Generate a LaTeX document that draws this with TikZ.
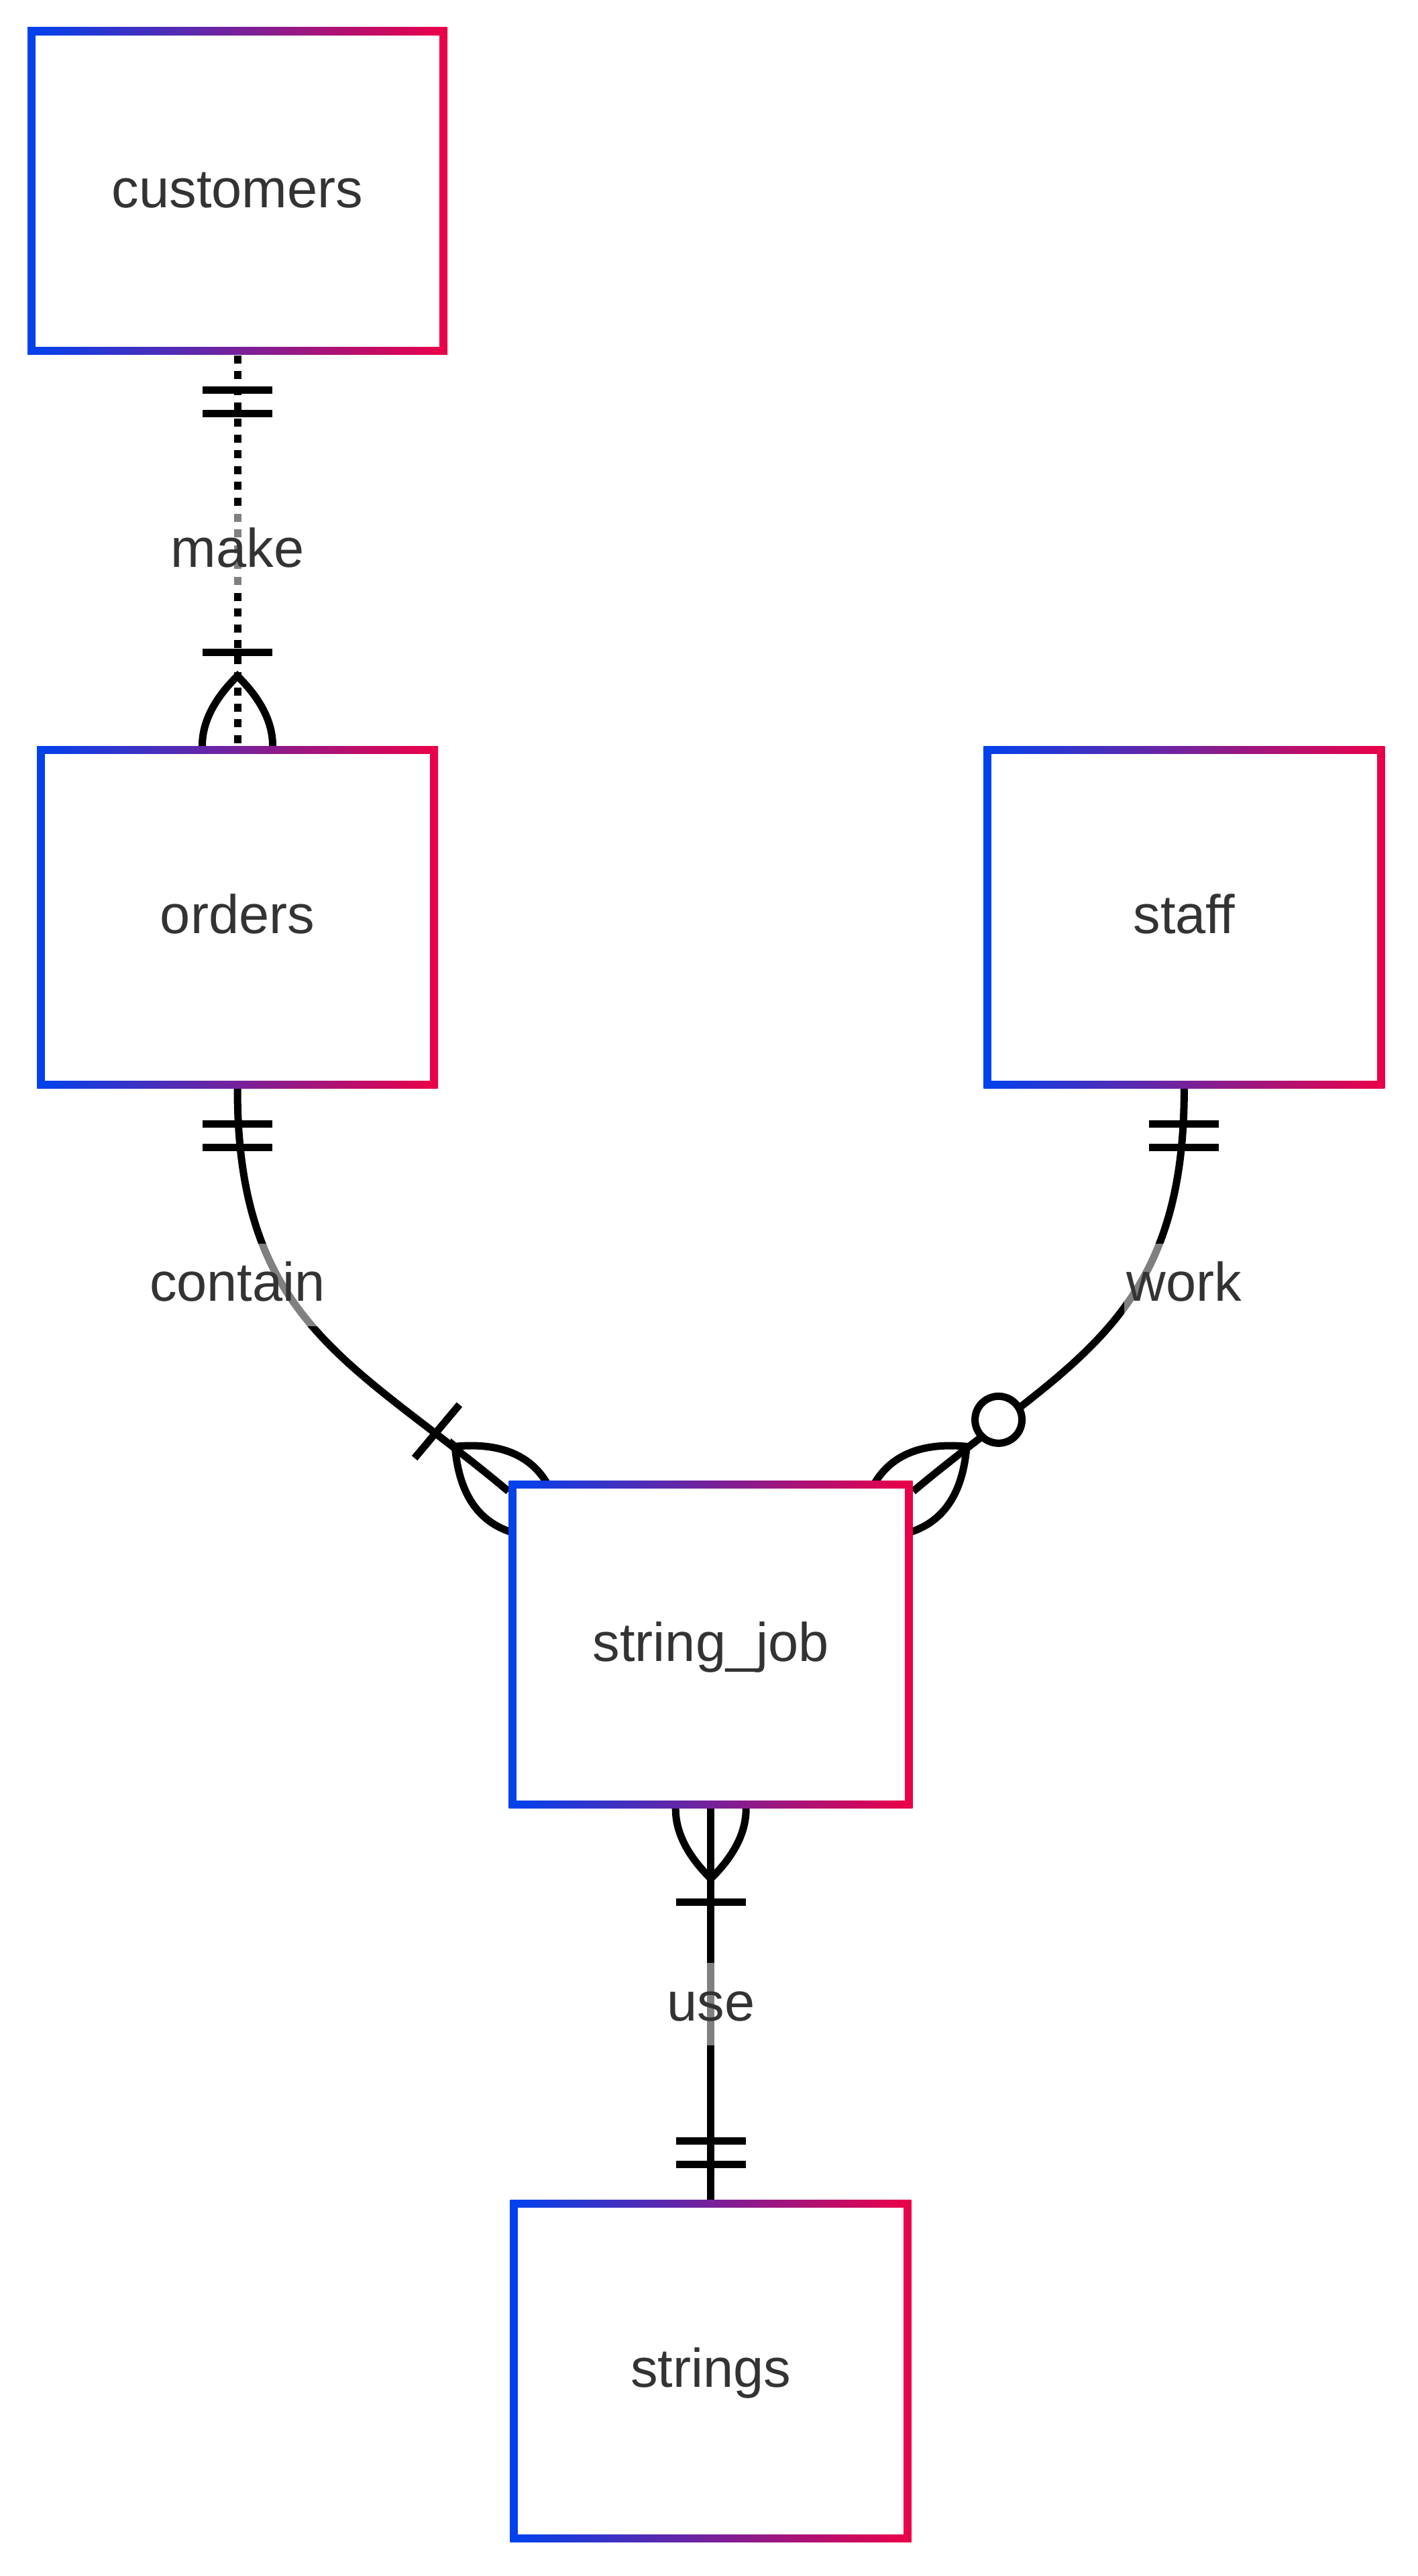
\documentclass[tikz,border=0pt]{standalone}
\usepackage{fontspec}
\setmainfont{Liberation Sans}
\usetikzlibrary{positioning, backgrounds, calc}
\definecolor{ErBlue}{RGB}{0,66,238}
\definecolor{ErRed} {RGB}{236,0,72}
\definecolor{ErText}{RGB}{51,51,51}
\newcommand{\erfont}{\fontsize{23.1pt}{27pt}\selectfont}
% crow's foot lens, x axis pointing away from the entity
\newcommand{\erlens}{%
  \draw[erline] (1.04,0) .. controls (0.35,0.70) and (-0.35,0.70) .. (-1.04,0)
                         .. controls (-0.35,-0.70) and (0.35,-0.70) .. cycle;}
\tikzset{
  % Entity box: gradient frame, white inside (args: width, height)
  entity/.style 2 args={
    rectangle, inner sep=0pt, minimum width=#1, minimum height=#2,
    left color=ErBlue, right color=ErRed,
    font=\erfont, text=ErText, text height=14pt, text depth=0pt,
    path picture={\fill[white]
      ([shift={(0.116,0.116)}]path picture bounding box.south west) rectangle
      ([shift={(-0.116,-0.116)}]path picture bounding box.north east);}
  },
  % Relation lines
  rel/.style={draw=black, line width=0.11cm},
  relDot/.style={rel, dash pattern=on 0.12cm off 0.116cm},
  erline/.style={draw=black, line width=0.11cm},
  % Relation label, half-transparent backing
  lbl/.style={
    font=\erfont, text=ErText, fill=white, fill opacity=0.5, text opacity=1,
    inner xsep=1pt, inner ysep=0pt, minimum height=1.23cm,
    text height=14pt, text depth=0pt
  },
  % Cardinality marks, x axis pointing away from the entity
  erone/.pic={
    \draw[erline] (0.52,-0.52) -- (0.52,0.52) (0.87,-0.52) -- (0.87,0.52);
  },
  ermany/.pic={
    \erlens
    \draw[erline] (1.39,-0.52) -- (1.39,0.52);
  },
  erzeromany/.pic={
    \erlens
    \draw[erline, fill=white] (1.66,0) circle (0.35);
  }
}

\begin{document}
\begin{tikzpicture}
  \useasboundingbox (0,0) rectangle (21.13,38.40);

  %% ── Entities ───────────────────────────────────────────────────────────────
  \node[entity={6.26cm}{4.88cm}] (customers) at (3.54,35.55) {customers};
  \node[entity={5.98cm}{5.10cm}, below=5.82cm of customers] (orders) {orders};
  \node[entity={5.98cm}{5.10cm}, right=8.12cm of orders] (staff) {staff};
  \node[entity={6.02cm}{4.88cm}, anchor=north] (stringjob)
    at ($(orders.south)!0.5!(staff.south)+(0,-5.84)$) {string\_job};
  \node[entity={5.98cm}{5.10cm}, below=5.82cm of stringjob] (strings) {strings};

  % Where the curved relations meet string_job
  \coordinate (cjL) at ([yshift=-0.16cm]stringjob.north west);
  \coordinate (cjR) at ([yshift=-0.16cm]stringjob.north east);

  %% ── Relations (behind the entities) ────────────────────────────────────────
  \begin{scope}[on background layer]
    \fill[white] (0,0) rectangle (21.13,38.40);
    \draw[relDot] (customers.south) -- (orders.north);
    \draw[rel] (orders.south) .. controls +(0,-3.5) and +(140:3) .. (cjL);
    \draw[rel] (staff.south) .. controls +(0,-3.5) and +(40:3) .. (cjR);
    \draw[rel] (stringjob.south) -- (strings.north);
    % cardinality marks
    \pic[rotate=-90] at (customers.south) {erone};
    \pic[rotate=90]  at (orders.north)    {ermany};
    \pic[rotate=-90] at (orders.south)    {erone};
    \pic[rotate=140] at (cjL)             {ermany};
    \pic[rotate=-90] at (staff.south)     {erone};
    \pic[rotate=40]  at (cjR)             {erzeromany};
    \pic[rotate=-90] at (stringjob.south) {ermany};
    \pic[rotate=90]  at (strings.north)   {erone};
  \end{scope}

  %% ── Labels ─────────────────────────────────────────────────────────────────
  \node[lbl] (lmake) at ($(customers.south)!0.5!(orders.north)$) {make};
  \node[lbl] (lcontain) at ($(orders.south)!0.5!(orders.south |- stringjob.north)$) {contain};
  \node[lbl] (lwork) at ($(staff.south)!0.5!(staff.south |- stringjob.north)$) {work};
  \node[lbl] (luse) at ($(stringjob.south)!0.5!(strings.north)$) {use};

\end{tikzpicture}
\end{document}
